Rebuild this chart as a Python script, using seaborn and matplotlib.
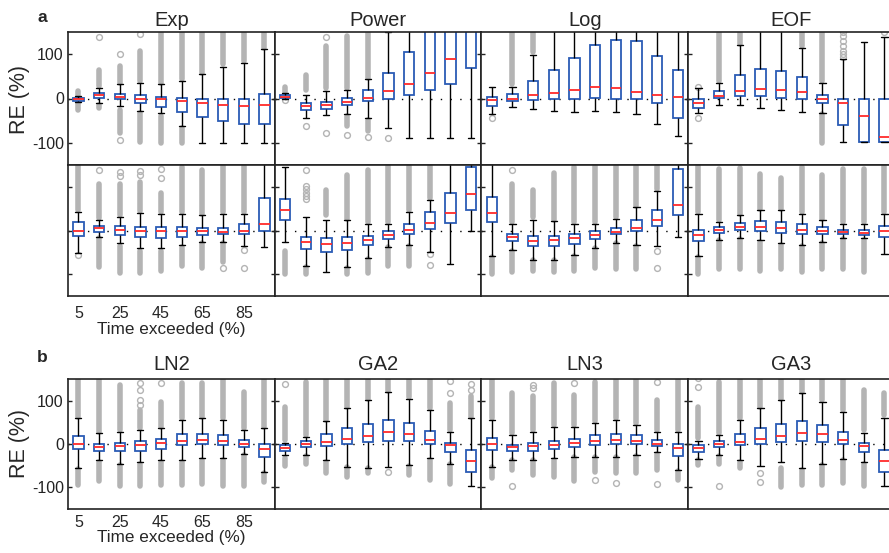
import matplotlib
matplotlib.use("Agg")
import matplotlib.pyplot as plt
import pandas as pd
import seaborn as sns

sns.set_style("white")
plt.rcParams["font.family"] = ["Liberation Sans", "DejaVu Sans"]
plt.rcParams["axes.unicode_minus"] = False

# Flow-duration points (time exceeded, %)
time_exceeded = ["5", "15", "25", "35", "45", "55", "65", "75", "85", "95"]
tick_labels = ["5", "25", "45", "65", "85"]
y_ticks = [-100, 0, 100]

# Box statistics per duration point: (lower whisker, Q1, median, Q3, upper whisker), RE in %
# Outlier clouds: list of (from, to) runs per duration point; isolated outliers: {index: [values]}

# ---- panel a, upper row ----
exp_upper_stats = [(-9, -5, -2, 1, 5), (-10, 1, 7, 13, 24), (-17, -2, 4, 10, 32), (-29, -11, 0, 7, 36),
                   (-33, -19, -2, 4, 32), (-63, -30, -6, 1, 39), (-100, -42, -11, 0, 55),
                   (-100, -51, -14, -1, 70), (-100, -57, -18, -1, 81), (-100, -57, -14, 11, 111)]
exp_upper_runs = [[(7, 18), (-10, -25)], [(28, 64), (-14, -21)], [(36, 73), (-25, -78)], [(40, 108), (-33, -97)],
                  [(36, 150), (-40, -100)], [(43, 151), (-67, -100)], [(58, 151)], [(77, 150)], [(85, 150)],
                  [(115, 150)]]
exp_upper_points = {1: [138], 2: [101, -93], 3: [145]}

power_upper_stats = [(0, 2, 4, 7, 12), (-44, -25, -17, -10, 9), (-38, -23, -15, -8, 17), (-36, -14, -8, 1, 20),
                     (-44, -6, 1, 20, 43), (-67, 0, 16, 58, 151), (-89, 8, 33, 106, 200),
                     (-89, 19, 58, 160, 250), (-89, 33, 89, 160, 250), (-89, 68, 170, 250, 300)]
power_upper_runs = [[(14, 27)], [(20, 52)], [(24, 119)], [(24, 140), (-40, -63)], [(47, 150), (-48, -74)],
                    [], [], [], [], []]
power_upper_points = {0: [-4], 1: [-63], 2: [139, -78], 3: [-82], 4: [-86], 5: [-88]}

log_upper_stats = [(-36, -17, -3, 3, 27), (-20, -5, 0, 11, 27), (-23, -4, 7, 40, 98), (-28, -2, 13, 65, 200),
                   (-30, 0, 20, 92, 200), (-28, 1, 27, 120, 200), (-30, -1, 24, 131, 200),
                   (-35, -2, 15, 129, 200), (-58, -11, 8, 95, 200), (-85, -45, 3, 65, 200)]
log_upper_runs = [[], [(32, 150)], [(104, 150)], [], [], [], [], [], [], []]
log_upper_points = {0: [-45]}

eof_upper_stats = [(-33, -21, -11, -2, 23), (-14, 1, 5, 18, 36), (-14, 5, 18, 53, 120), (-22, 5, 22, 67, 200),
                   (-27, 2, 20, 63, 200), (-30, -1, 14, 48, 115), (-33, -10, -1, 9, 34),
                   (-99, -60, -11, 0, 89), (-98, -98, -40, 0, 128), (-99, -99, -86, 0, 138)]
eof_upper_runs = [[], [(39, 150)], [(123, 150)], [], [], [(119, 150)], [(39, 149), (-36, -100)], [], [], []]
eof_upper_points = {0: [25, -45], 7: [149, 140, 130, 119, 108, 100, 93], 9: [149]}

# ---- panel a, lower row ----
exp_lower_stats = [(-52, -12, 0, 20, 42), (-14, -3, 5, 11, 25), (-29, -11, 2, 10, 31), (-41, -16, 0, 9, 40),
                   (-41, -17, -2, 7, 38), (-33, -14, -1, 7, 38), (-26, -11, -2, 5, 35),
                   (-26, -9, -3, 6, 38), (-35, -8, 0, 14, 38), (-37, -2, 14, 74, 200)]
exp_lower_runs = [[(46, 147)], [(29, 106), (-18, -83)], [(35, 106), (-35, -97)], [(44, 110), (-48, -97)],
                  [(42, 87), (-48, -93)], [(42, 145), (-38, -82)], [(38, 138), (-29, -86)],
                  [(42, 147), (-29, -71)], [(42, 147)], []]
exp_lower_points = {0: [-57], 1: [138], 2: [135, 125], 3: [136, 127], 4: [140, 121], 7: [-86], 8: [-44, -87]}

power_lower_stats = [(-26, 25, 46, 73, 145), (-82, -43, -26, -14, 31), (-95, -49, -32, -18, 23),
                     (-83, -44, -29, -16, 23), (-63, -34, -21, -12, 14), (-38, -19, -11, -2, 16),
                     (-33, -7, 2, 16, 42), (-50, 4, 17, 42, 70), (-77, 18, 39, 87, 200), (0, 46, 83, 145, 200)]
power_lower_runs = [[(-48, -100)], [(-83, -100)], [(35, 92)], [(27, 128), (-86, -100)], [(20, 138), (-65, -97)],
                    [(20, 147), (-38, -82)], [(46, 147), (-35, -82)], [(74, 147)], [], []]
power_lower_points = {1: [138, 102, 95, 87, 80, 72], 7: [-53, -80]}

log_lower_stats = [(-59, 20, 41, 77, 200), (-44, -24, -14, -7, 14), (-67, -35, -23, -12, 23),
                   (-67, -36, -22, -12, 21), (-57, -30, -18, -9, 16), (-39, -20, -11, -2, 16),
                   (-28, -8, -3, 6, 27), (-33, -1, 6, 23, 53), (-35, 11, 23, 46, 91), (-16, 35, 59, 140, 200)]
log_lower_runs = [[(-61, -100)], [(20, 106), (-46, -95)], [(31, 92), (-68, -93)], [(25, 132), (-68, -95)],
                  [(20, 145), (-59, -93)], [(20, 147), (-41, -86)], [(31, 147), (-29, -89)],
                  [(57, 147), (-35, -89)], [(95, 147)], []]
log_lower_points = {1: [138], 8: [-48, -86]}

eof_lower_stats = [(-59, -24, -11, 2, 38), (-22, -6, 1, 7, 20), (-18, 1, 8, 17, 35), (-22, 0, 9, 22, 46),
                   (-29, -5, 5, 19, 46), (-33, -8, 2, 14, 38), (-26, -8, -1, 8, 23),
                   (-18, -9, -3, 2, 16), (-18, -11, -5, 1, 16), (-53, -16, 0, 10, 38)]
eof_lower_runs = [[(42, 147), (-61, -100)], [(23, 140), (-22, -89)], [(38, 144), (-20, -89)],
                  [(50, 130), (-26, -93)], [(50, 120), (-33, -89)], [(42, 145), (-35, -95)],
                  [(27, 128), (-29, -89)], [(20, 140), (-20, -89)], [(20, 140), (-22, -95)], [(42, 147)]]
eof_lower_points = {}

# ---- panel b ----
ln2_stats = [(-56, -12, 0, 18, 59), (-37, -17, -8, 1, 25), (-45, -17, -5, 2, 28), (-41, -15, -2, 7, 32),
             (-37, -11, 2, 12, 36), (-37, -3, 8, 22, 55), (-33, -1, 9, 22, 59), (-33, -2, 8, 20, 55),
             (-22, -6, 0, 9, 32), (-64, -29, -11, 0, 36)]
ln2_runs = [[(63, 152), (-58, -95)], [(28, 150), (-41, -85)], [(32, 136), (-48, -98)], [(36, 78), (-45, -98)],
            [(40, 98), (-41, -95)], [(59, 140), (-41, -95)], [(63, 140), (-37, -92)], [(59, 152), (-38, -96)],
            [(36, 121), (-25, -98)], [(40, 152), (-68, -87)]]
ln2_points = {3: [140, 125, 102, 90], 4: [140]}

ga2_stats = [(-25, -16, -9, -2, 3), (-25, -8, -1, 6, 17), (-37, -5, 5, 22, 52), (-52, 0, 11, 36, 82),
             (-55, 4, 18, 47, 102), (-54, 8, 27, 55, 119), (-48, 8, 24, 49, 105), (-33, 1, 9, 29, 78),
             (-45, -19, -3, 3, 28), (-98, -64, -39, -14, 59)]
ga2_runs = [[(9, 86), (-33, -51)], [(21, 144), (-28, -45)], [(55, 152), (-41, -68)], [(86, 152), (-52, -75)],
            [(105, 152), (-56, -68)], [(123, 152)], [(109, 152), (-51, -72)], [(82, 152), (-37, -82)],
            [(32, 94), (-45, -92)], [(63, 110)]]
ga2_points = {0: [138], 5: [-64], 8: [146, 117], 9: [138, 125]}

ln3_stats = [(-52, -14, -1, 13, 55), (-37, -16, -7, -2, 21), (-37, -16, -5, 3, 28), (-33, -12, -2, 7, 40),
             (-29, -8, 2, 12, 40), (-29, -2, 8, 20, 48), (-29, -1, 9, 24, 55), (-25, -1, 7, 20, 44),
             (-18, -5, 1, 9, 28), (-60, -28, -10, -1, 28)]
ln3_runs = [[(59, 152), (-54, -79)], [(25, 117), (-37, -60)], [(32, 110), (-37, -72)], [(44, 140), (-37, -75)],
            [(44, 112), (-29, -85)], [(52, 144), (-31, -64)], [(59, 148), (-31, -68)], [(48, 152), (-28, -68)],
            [(32, 102), (-22, -60)], [(32, 152), (-62, -83)]]
ln3_points = {1: [-97], 2: [130, 136], 4: [140], 5: [-82], 6: [-89], 8: [144, -92]}

ga3_stats = [(-35, -18, -9, -2, 8), (-25, -8, -1, 6, 21), (-37, -3, 5, 22, 55), (-51, 0, 12, 36, 82),
             (-41, 5, 18, 47, 102), (-56, 8, 26, 54, 117), (-45, 5, 22, 45, 98), (-35, 0, 9, 28, 75),
             (-41, -18, -5, 2, 25), (-98, -64, -39, -14, 59)]
ga3_runs = [[(13, 86), (-37, -48)], [(25, 144), (-28, -45)], [(59, 152), (-41, -56)], [(86, 152)],
            [(105, 152), (-56, -100)], [(121, 152), (-60, -95)], [(102, 152), (-48, -95)],
            [(78, 152), (-37, -91)], [(32, 125), (-45, -98)], [(67, 117)]]
ga3_points = {0: [152, 132], 1: [-97], 3: [-68, -87]}

BLUE = "#2b5cb5"
RED = "#ff2a2a"
GRAY = "#b4b4b4"
SPINE = "#222222"

W, H = 889, 553
fig = plt.figure(figsize=(W / 100, H / 100), dpi=100)

col_x = [68, 274.7, 481.4, 688.1]
col_w = 206.7
rows = [
    (32, 133, [("Exp", exp_upper_stats, exp_upper_runs, exp_upper_points),
               ("Power", power_upper_stats, power_upper_runs, power_upper_points),
               ("Log", log_upper_stats, log_upper_runs, log_upper_points),
               ("EOF", eof_upper_stats, eof_upper_runs, eof_upper_points)]),
    (165, 131, [("", exp_lower_stats, exp_lower_runs, exp_lower_points),
                ("", power_lower_stats, power_lower_runs, power_lower_points),
                ("", log_lower_stats, log_lower_runs, log_lower_points),
                ("", eof_lower_stats, eof_lower_runs, eof_lower_points)]),
    (379, 130, [("LN2", ln2_stats, ln2_runs, ln2_points),
                ("GA2", ga2_stats, ga2_runs, ga2_points),
                ("LN3", ln3_stats, ln3_runs, ln3_points),
                ("GA3", ga3_stats, ga3_runs, ga3_points)]),
]


def draw_panel(ax, stats, runs, points):
    long = pd.DataFrame(
        [(t, v) for t, s in zip(time_exceeded, stats) for v in s], columns=["time", "RE"]
    )
    ax.axhline(0, color="black", lw=1.0, ls=(0, (1, 6)), zorder=0.5)
    for i, segs in enumerate(runs):
        for lo, hi in segs:
            ax.plot([i, i], [lo, hi], color=GRAY, lw=4.0, solid_capstyle="round", zorder=0.8)
    for i, vals in points.items():
        ax.plot([i] * len(vals), vals, "o", mfc="none", mec=GRAY, mew=1.0, ms=4.2, zorder=0.8)
    sns.boxplot(
        data=long, x="time", y="RE", order=time_exceeded, ax=ax,
        whis=(0, 100), showfliers=False, width=0.5, color="white", saturation=1,
        linecolor=BLUE, linewidth=1.3,
        medianprops={"color": RED, "linewidth": 1.3},
        whiskerprops={"color": "black", "linewidth": 1.0},
        capprops={"color": "black", "linewidth": 1.0},
        capwidths=0.3,
    )
    ax.set_xlim(-0.5, 9.5)
    ax.set_ylim(-150, 150)
    ax.set_xlabel("")
    ax.set_ylabel("")
    ax.set_yticks(y_ticks)
    ax.set_xticks(range(0, 10, 2))
    ax.tick_params(axis="y", direction="in", length=3, width=1, left=True, right=True,
                   labelleft=False, labelsize=11.5, colors=SPINE, pad=3)
    ax.tick_params(axis="x", length=0, labelbottom=False, labelsize=11.5, pad=7)
    for sp in ax.spines.values():
        sp.set_visible(True)
        sp.set_color(SPINE)
        sp.set_linewidth(1.2)


for r, (top, h, panels) in enumerate(rows):
    for c, (title, stats, runs, points) in enumerate(panels):
        ax = fig.add_axes([col_x[c] / W, 1 - (top + h) / H, col_w / W, h / H])
        draw_panel(ax, stats, runs, points)
        if title:
            ax.set_title(title, fontsize=14.5, pad=4 if r == 0 else 6.5)
        if c == 0 and r in (0, 2):
            ax.tick_params(axis="y", labelleft=True)
        if c == 0 and r in (1, 2):
            ax.set_xticklabels(tick_labels)
            ax.tick_params(axis="x", labelbottom=True, pad=7 if r == 1 else 4.5)
            ax.set_xlabel("Time exceeded (%)", fontsize=12.3, labelpad=1 if r == 1 else 0)

fig.text(19 / W, 1 - 99 / H, "RE (%)", rotation=90, ha="center", va="center", fontsize=15.5)
fig.text(19 / W, 1 - 444 / H, "RE (%)", rotation=90, ha="center", va="center", fontsize=15.5)
fig.text(42 / W, 1 - 18 / H, "a", ha="center", va="center", fontsize=12.5, fontweight="bold")
fig.text(42 / W, 1 - 357 / H, "b", ha="center", va="center", fontsize=12.5, fontweight="bold")

fig.savefig("out.png", dpi=100)
